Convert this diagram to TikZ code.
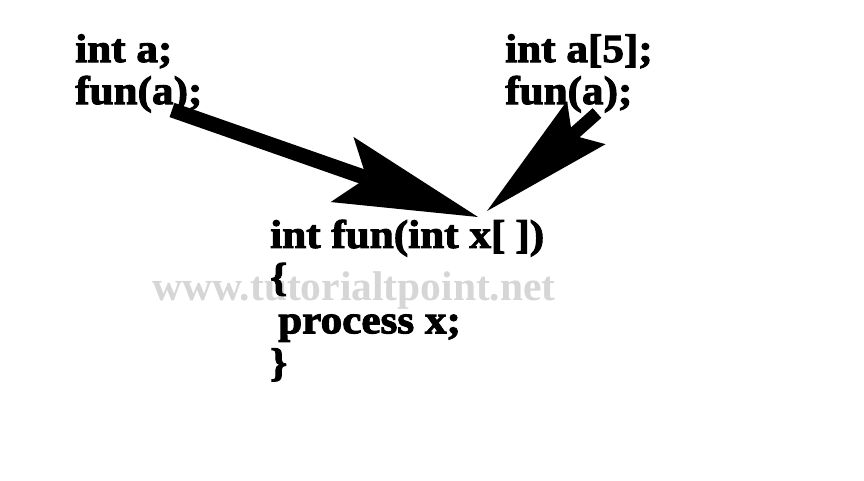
\documentclass[tikz,border=0pt]{standalone}
\usepackage{fontspec}
\setmainfont{Liberation Serif}
\newfontfamily\codefont{Liberation Serif}[FakeBold=2.5, FakeStretch=1.08]
\usetikzlibrary{arrows.meta, positioning}

\begin{document}
\begin{tikzpicture}[
    x=1pt, y=-1pt,
    code/.style={anchor=base west, inner sep=0pt, align=left,
                 font=\codefont\bfseries\fontsize{40}{42}\selectfont},
    mark text/.style={anchor=base west, inner sep=0pt, text=black!16,
                 font=\bfseries\fontsize{41.5}{44}\selectfont},
    fatarrow/.style={line width=#1, line cap=butt}
]
\useasboundingbox[fill=white] (0,0) rectangle (864,480);

% watermark (behind the code)
\node[mark text] (mark) at (152,300) {www.tutorialtpoint.net};

% calls (base anchor sits on the last line)
\node[code] (scalar) at (75,104) {int a;\\fun(a);};
\node[code] (array) at (505,104) {int a[5];\\fun(a);};

% function
\node[code, font=\codefont\bfseries\fontsize{40}{42.7}\selectfont] (func) at (270,376)
    {int fun(int x[\hspace{10pt}])\\\{\\\hspace{8pt}process x;\\\}};

% arrow ends
\coordinate (lefttail) at (172,110);
\coordinate (lefttip) at (478,217);
\coordinate (righttail) at (597,113);
\coordinate (righttip) at (487,211);

% arrows
\draw[fatarrow=15pt, -{Stealth[length=144pt, width=69pt, inset=26pt, line width=0pt]}] (lefttail) -- (lefttip);
\draw[fatarrow=13pt, -{Stealth[length=133pt, width=58pt, inset=19pt, line width=0pt]}] (righttail) -- (righttip);

\end{tikzpicture}
\end{document}
